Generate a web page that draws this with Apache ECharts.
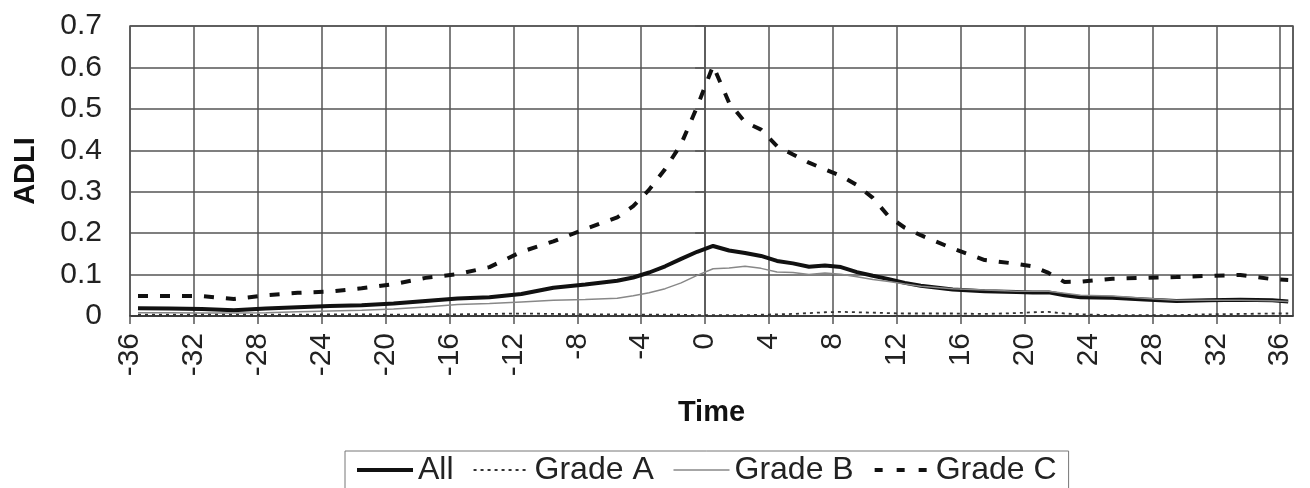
<!DOCTYPE html>
<html>
<head>
<meta charset="utf-8">
<script src="https://cdn.jsdelivr.net/npm/echarts@6/dist/echarts.min.js"></script>
<style>
    html, body { margin: 0; padding: 0; background: #fff; }
    #chart { width: 1310px; height: 488px; }
</style>
</head>
<body>
<div id="chart"></div>
<script>
var times = [-35.5, -33.5, -31.5, -29.5, -27.5, -25.5, -23.5, -21.5, -19.5, -17.5, -15.5, -13.5, -11.5, -9.5, -7.5, -5.5, -4.5, -3.5, -2.5, -1.5, -0.5,
    0.5, 1.5, 2.5, 3.5, 4.5, 5.5, 6.5, 7.5, 8.5, 9.5, 10.5, 11.5, 12.5, 13.5, 15.5, 17.5, 19.5, 20.5, 21.5, 22.5, 23.5, 25.5, 27.5, 29.5, 31.5, 33.5, 35.5, 36.5];

var allValues = [0.019, 0.018, 0.017, 0.014, 0.018, 0.021, 0.024, 0.026, 0.030, 0.036, 0.042, 0.045, 0.053, 0.068, 0.076, 0.085, 0.093, 0.105, 0.120, 0.138, 0.155,
    0.169, 0.158, 0.152, 0.145, 0.133, 0.127, 0.119, 0.122, 0.118, 0.106, 0.097, 0.089, 0.080, 0.073, 0.064, 0.060, 0.058, 0.057, 0.057, 0.050, 0.045, 0.044, 0.040, 0.036, 0.038, 0.039, 0.038, 0.035];

var gradeA = [0.003, 0.003, 0.004, 0.004, 0.003, 0.003, 0.004, 0.004, 0.003, 0.004, 0.004, 0.005, 0.006, 0.005, 0.004, 0.004, 0.003, 0.003, 0.003, 0.003, 0.002,
    0.002, 0.002, 0.002, 0.003, 0.004, 0.005, 0.007, 0.009, 0.010, 0.009, 0.008, 0.007, 0.006, 0.006, 0.006, 0.005, 0.007, 0.009, 0.010, 0.006, 0.004, 0.002, 0.002, 0.002, 0.004, 0.005, 0.006, 0.006];

var gradeB = [0.008, 0.008, 0.007, 0.007, 0.008, 0.010, 0.012, 0.014, 0.017, 0.022, 0.028, 0.030, 0.034, 0.038, 0.040, 0.043, 0.049, 0.056, 0.066, 0.080, 0.098,
    0.114, 0.116, 0.120, 0.115, 0.106, 0.105, 0.100, 0.104, 0.101, 0.095, 0.088, 0.083, 0.077, 0.072, 0.066, 0.063, 0.060, 0.060, 0.060, 0.055, 0.050, 0.048, 0.043, 0.038, 0.038, 0.038, 0.037, 0.035];

var gradeC = [0.048, 0.048, 0.048, 0.041, 0.050, 0.056, 0.059, 0.067, 0.077, 0.092, 0.101, 0.118, 0.155, 0.180, 0.210, 0.238, 0.265, 0.305, 0.355, 0.415, 0.505,
    0.604, 0.515, 0.468, 0.450, 0.410, 0.390, 0.370, 0.354, 0.338, 0.316, 0.285, 0.240, 0.213, 0.195, 0.163, 0.135, 0.126, 0.120, 0.104, 0.082, 0.083, 0.090, 0.092, 0.094, 0.097, 0.099, 0.089, 0.087];

function pairs(values) {
    var out = [];
    for (var i = 0; i < times.length; i++) {
        out.push([times[i], values[i]]);
    }
    return out;
}

var FONT = '"Liberation Sans", Arial, sans-serif';
var lineAll = { color: '#111', width: 4 };
var lineA = { color: '#333', width: 1.8, type: [3, 4] };
var lineB = { color: '#888', width: 1.5 };
var lineC = { color: '#111', width: 4, type: [10, 12] };

var myChart = echarts.init(document.getElementById('chart'));

var option = {
    animation: false,
    grid: {
        left: 130,
        right: 17,
        top: 26,
        bottom: 172,
        show: true,
        borderColor: '#555',
        borderWidth: 1.5
    },
    legend: {
        left: 345,
        top: 451,
        padding: [3, 12, 40, 10],
        borderColor: '#777',
        borderWidth: 1,
        itemWidth: 56,
        itemHeight: 14,
        itemGap: 19,
        itemStyle: { opacity: 0 },
        data: [
            { name: 'All', lineStyle: lineAll },
            { name: 'Grade A', lineStyle: { color: '#333', width: 2, type: [3, 4] } },
            { name: 'Grade B', lineStyle: lineB },
            { name: 'Grade C', lineStyle: { color: '#111', width: 4, type: [8, 14] } }
        ],
        textStyle: {
            fontFamily: FONT,
            fontSize: 32,
            color: '#222'
        }
    },
    xAxis: {
        type: 'value',
        min: -36,
        max: 36.8,
        interval: 4,
        name: 'Time',
        nameLocation: 'middle',
        nameGap: 82,
        nameTextStyle: {
            fontFamily: FONT,
            fontSize: 29,
            fontWeight: 'bold',
            color: '#111'
        },
        axisLine: { onZero: false, lineStyle: { color: '#333', width: 1.5 } },
        axisTick: { show: true, length: 8, lineStyle: { color: '#555', width: 1.5 } },
        axisLabel: {
            rotate: 90,
            margin: 17,
            fontFamily: FONT,
            fontSize: 30,
            color: '#222',
            showMaxLabel: false,
            formatter: function (v) {
                return v % 4 === 0 ? String(v) : '';
            }
        },
        splitLine: { show: true, lineStyle: { color: '#555', width: 1.5 } }
    },
    yAxis: {
        type: 'value',
        min: 0,
        max: 0.7,
        interval: 0.1,
        name: 'ADLI',
        nameLocation: 'middle',
        nameRotate: 90,
        nameGap: 90,
        nameTextStyle: {
            fontFamily: FONT,
            fontSize: 29,
            fontWeight: 'bold',
            color: '#111'
        },
        axisLine: { show: true, lineStyle: { color: '#555', width: 1.5 } },
        axisTick: { show: true, length: 10, lineStyle: { color: '#555', width: 1.5 } },
        axisLabel: {
            margin: 28,
            fontFamily: FONT,
            fontSize: 30,
            color: '#222'
        },
        splitLine: { show: true, lineStyle: { color: '#555', width: 1.5 } }
    },
    series: [
        { name: 'All', type: 'line', symbol: 'none', data: pairs(allValues), lineStyle: lineAll, itemStyle: { color: '#111' } },
        { name: 'Grade A', type: 'line', symbol: 'none', data: pairs(gradeA), lineStyle: lineA, itemStyle: { color: '#333' } },
        { name: 'Grade B', type: 'line', symbol: 'none', data: pairs(gradeB), lineStyle: lineB, itemStyle: { color: '#888' } },
        { name: 'Grade C', type: 'line', symbol: 'none', data: pairs(gradeC), lineStyle: lineC, itemStyle: { color: '#111' } }
    ]
};

myChart.setOption(option);
</script>
</body>
</html>
